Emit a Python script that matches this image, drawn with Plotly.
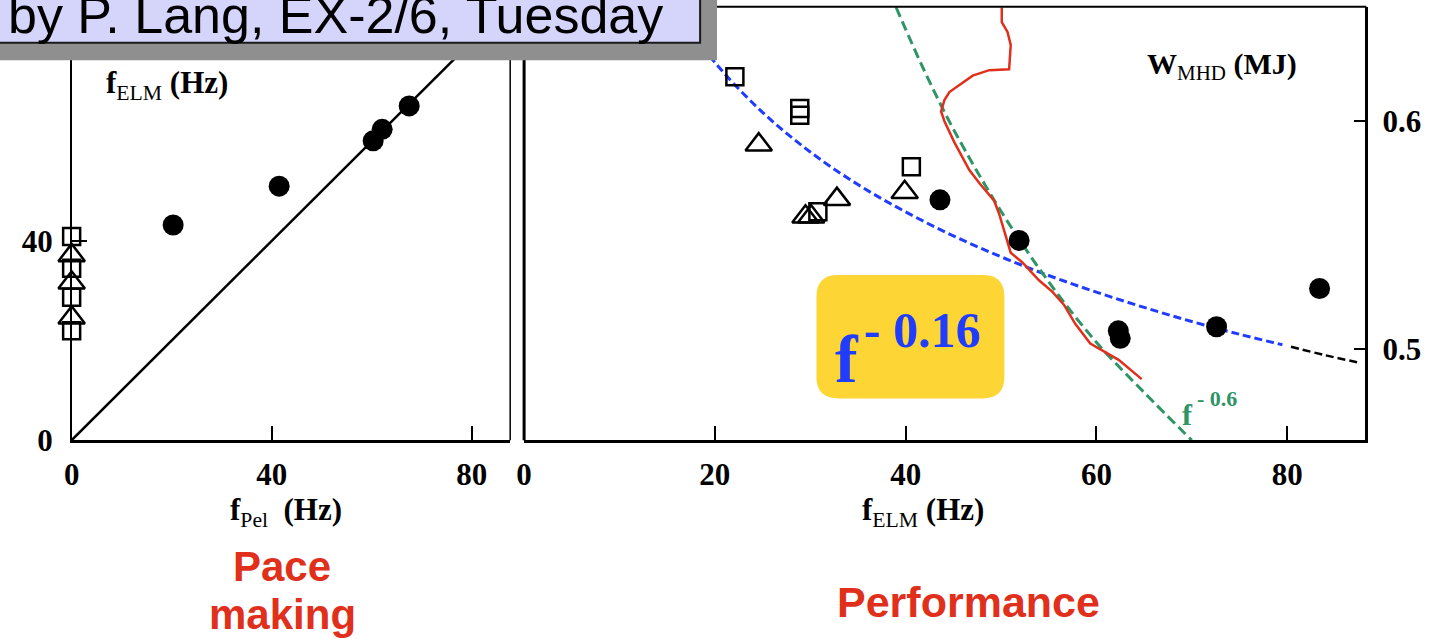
import plotly.graph_objects as go

# ---------------- data ----------------
# Left panel: f_ELM vs f_Pel (Hz)
pel_circle_fpel = [20.3, 41.5, 60.3, 62.1, 67.5]
pel_circle_felm = [43.2, 51.0, 60.1, 62.4, 67.1]
pel_square_fpel = [0, 0, 0, 0]
pel_square_felm = [40.9, 34.5, 28.7, 22.0]
pel_tri_fpel = [0, 0, 0]
pel_tri_felm = [37.1, 31.6, 24.6]
diag_x = [0, 86]
diag_y = [0, 86]

# Right panel: W_MHD (MJ) vs f_ELM (Hz)
sq_f = [22.1, 28.9, 28.9, 30.8, 40.6]
sq_w = [0.6195, 0.6056, 0.6026, 0.5603, 0.5800]
tri_f = [24.6, 29.5, 30.1, 32.8, 39.9]
tri_w = [0.5897, 0.5581, 0.5581, 0.5658, 0.5688]
circ_f = [43.6, 51.9, 62.3, 62.5, 72.6, 83.4]
circ_w = [0.5655, 0.5477, 0.5080, 0.5047, 0.5098, 0.5266]

blue_f = [15.8, 20, 25, 30, 35, 40, 45, 50, 55, 60, 65, 70, 75, 79.5]
blue_w = [0.650, 0.6258, 0.6039, 0.5865, 0.5722, 0.5602, 0.5497, 0.5405,
          0.5323, 0.5250, 0.5183, 0.5121, 0.5065, 0.5019]
black_f = [80.4, 84.0, 87.6]
black_w = [0.5010, 0.4973, 0.4940]
green_f = [39, 42, 45, 50, 55, 60, 65, 70]
green_w = [0.650, 0.6218, 0.5966, 0.5605, 0.5295, 0.5030, 0.4810, 0.4600]
red_f = [50.08, 50.08, 50.68, 51.02, 50.85, 48.77, 47.03, 44.59, 44.07, 43.72,
         44.07, 45.11, 46.68, 47.72, 49.28, 49.80, 51.02, 52.24, 53.98, 55.37,
         56.59, 57.80, 59.36, 61.63, 62.33, 64.75]
red_w = [0.6499, 0.6435, 0.6392, 0.6335, 0.6228, 0.6224, 0.6200, 0.6128, 0.6093,
         0.6043, 0.6000, 0.5907, 0.5786, 0.5729, 0.5651, 0.5594, 0.5423, 0.5380,
         0.5302, 0.5252, 0.5195, 0.5110, 0.5024, 0.4967, 0.4953, 0.4868]

left_xticks = [0, 40, 80]
left_yticks = [0, 40]
right_xticks = [0, 20, 40, 60, 80]
right_yticks = [0.5, 0.6]
right_yticktext = ["0.5", "0.6"]

# ---------------- layout helpers ----------------
W, H = 1431, 639
def PX(x):
    return x / W
def PY(y):
    return 1 - y / H

SERIF = "Liberation Serif"
SANS = "Liberation Sans"
BLUE = "#1f3cff"
GREEN = "#2f9466"
RED = "#e0301c"

fig = go.Figure()

# left panel traces
fig.add_trace(go.Scatter(x=diag_x, y=diag_y, mode="lines",
                         line=dict(color="black", width=2.5), xaxis="x", yaxis="y"))
fig.add_trace(go.Scatter(x=pel_square_fpel, y=pel_square_felm, mode="markers",
                         marker=dict(symbol="square-open", size=17, color="black",
                                     line=dict(width=2.5, color="black")),
                         xaxis="x", yaxis="y", cliponaxis=False))
fig.add_trace(go.Scatter(x=pel_tri_fpel, y=pel_tri_felm, mode="markers",
                         marker=dict(symbol="triangle-up-open", size=23, color="black",
                                     line=dict(width=2.5, color="black")),
                         xaxis="x", yaxis="y", cliponaxis=False))
fig.add_trace(go.Scatter(x=pel_circle_fpel, y=pel_circle_felm, mode="markers",
                         marker=dict(symbol="circle", size=21, color="black"),
                         xaxis="x", yaxis="y"))

# right panel traces
fig.add_trace(go.Scatter(x=blue_f, y=blue_w, mode="lines", line_shape="spline",
                         line=dict(color=BLUE, width=3, dash="8px,4px"),
                         xaxis="x2", yaxis="y2"))
fig.add_trace(go.Scatter(x=black_f, y=black_w, mode="lines", line_shape="spline",
                         line=dict(color="black", width=2.5, dash="8px,4px"),
                         xaxis="x2", yaxis="y2"))
fig.add_trace(go.Scatter(x=green_f, y=green_w, mode="lines", line_shape="spline",
                         line=dict(color=GREEN, width=3, dash="10px,5px"),
                         xaxis="x2", yaxis="y2"))
fig.add_trace(go.Scatter(x=red_f, y=red_w, mode="lines",
                         line=dict(color=RED, width=2.5),
                         xaxis="x2", yaxis="y2"))
fig.add_trace(go.Scatter(x=sq_f, y=sq_w, mode="markers",
                         marker=dict(symbol="square-open", size=17, color="black",
                                     line=dict(width=2.5, color="black")),
                         xaxis="x2", yaxis="y2"))
fig.add_trace(go.Scatter(x=tri_f, y=tri_w, mode="markers",
                         marker=dict(symbol="triangle-up-open", size=23, color="black",
                                     line=dict(width=2.5, color="black")),
                         xaxis="x2", yaxis="y2"))
fig.add_trace(go.Scatter(x=circ_f, y=circ_w, mode="markers",
                         marker=dict(symbol="circle", size=21, color="black"),
                         xaxis="x2", yaxis="y2"))

tickfont = dict(family=SERIF, size=31, color="black", weight="bold")
bottom = PY(453)
top = PY(7)

fig.update_layout(
    width=W, height=H, margin=dict(l=0, r=0, t=0, b=0),
    paper_bgcolor="white", plot_bgcolor="rgba(0,0,0,0)", showlegend=False,
    xaxis=dict(domain=[PX(64), PX(505)], range=[0, 87.7], showgrid=False, zeroline=False,
               showline=True, linewidth=3, linecolor="black",
               ticks="inside", ticklen=14, tickwidth=2, tickcolor="black",
               tickvals=left_xticks, tickfont=tickfont, anchor="y",
               ticklabelstandoff=5),
    yaxis=dict(domain=[bottom, top], range=[0, 87.0], showgrid=False, zeroline=False,
               showline=True, linewidth=1.5, linecolor="black",
               ticks="inside", ticklen=16, tickwidth=2, tickcolor="black",
               tickvals=left_yticks, tickfont=tickfont, anchor="x",
               ticklabelstandoff=11),
    xaxis2=dict(domain=[PX(519), PX(1365)], range=[0, 88.2], showgrid=False, zeroline=False,
                showline=True, linewidth=3, linecolor="black",
                ticks="inside", ticklen=14, tickwidth=2, tickcolor="black",
                tickvals=right_xticks, tickfont=tickfont, anchor="y2",
                ticklabelstandoff=5),
    yaxis2=dict(domain=[bottom, top], range=[0.46, 0.6502], showgrid=False, zeroline=False,
                showline=True, linewidth=3, linecolor="black", side="right",
                ticks="inside", ticklen=11, tickwidth=2, tickcolor="black",
                tickvals=right_yticks, ticktext=right_yticktext,
                tickfont=tickfont, anchor="x2", ticklabelstandoff=8),
)

def rounded_rect(x0, y0, x1, y1, r):
    pts = [
        f"M {PX(x0 + r)},{PY(y0)}",
        f"L {PX(x1 - r)},{PY(y0)}",
        f"Q {PX(x1)},{PY(y0)} {PX(x1)},{PY(y0 + r)}",
        f"L {PX(x1)},{PY(y1 - r)}",
        f"Q {PX(x1)},{PY(y1)} {PX(x1 - r)},{PY(y1)}",
        f"L {PX(x0 + r)},{PY(y1)}",
        f"Q {PX(x0)},{PY(y1)} {PX(x0)},{PY(y1 - r)}",
        f"L {PX(x0)},{PY(y0 + r)}",
        f"Q {PX(x0)},{PY(y0)} {PX(x0 + r)},{PY(y0)}",
        "Z",
    ]
    return " ".join(pts)

shapes = [
    # left panel right border
    dict(type="line", xref="paper", yref="paper", x0=PX(505), x1=PX(505),
         y0=bottom, y1=1, line=dict(color="black", width=1.5), layer="above"),
    # right panel left & top border
    dict(type="line", xref="paper", yref="paper", x0=PX(519), x1=PX(519),
         y0=bottom, y1=top, line=dict(color="black", width=3), layer="above"),
    dict(type="line", xref="paper", yref="paper", x0=PX(519), x1=PX(1366),
         y0=top, y1=top, line=dict(color="black", width=2), layer="above"),
    # yellow rounded box
    dict(type="path", xref="paper", yref="paper", path=rounded_rect(813, 283, 1002, 410, 22),
         fillcolor="#fdd535", line=dict(width=0), layer="above"),
    # title box shadow + box
    dict(type="rect", xref="paper", yref="paper", x0=PX(-10), x1=PX(713),
         y0=PY(62), y1=PY(-10), fillcolor="#8f8f8f", line=dict(width=0), layer="above"),
    dict(type="rect", xref="paper", yref="paper", x0=PX(-10), x1=PX(696),
         y0=PY(44), y1=PY(-10), fillcolor="#d5d5fc",
         line=dict(width=2, color="#1a1a1a"), layer="above"),
]
fig.update_layout(shapes=shapes)

def ann(text, x, y, size, color="black", family=SERIF, xanchor="center", yanchor="middle"):
    return dict(text=text, xref="paper", yref="paper", x=PX(x), y=PY(y),
                xanchor=xanchor, yanchor=yanchor, showarrow=False,
                font=dict(family=family, size=size, color=color))

annotations = [
    ann("by P. Lang, EX-2/6, Tuesday", -2, 15, 52, family=SANS, xanchor="left"),
    ann("<b>f</b><sub>ELM</sub><b> (Hz)</b>", 97, 87, 31, xanchor="left"),
    ann("<b>W</b><sub>MHD</sub><b> (MJ)</b>", 1143, 68, 30, xanchor="left"),
    ann("<b>f</b><sub>Pel</sub><b>  (Hz)</b>", 280, 527, 31),
    ann("<b>f</b><sub>ELM</sub><b> (Hz)</b>", 920, 527, 31),
    ann("<b>Pace</b>", 276, 583, 42, color=RED, family=SANS),
    ann("<b>making</b>", 276, 632, 42, color=RED, family=SANS),
    ann("<b>Performance</b>", 966, 619, 43, color=RED, family=SANS),
    ann("<b>f</b>", 830, 369, 68, color=BLUE, xanchor="left"),
    ann("<b>- 0.16</b>", 859, 340, 50, color=BLUE, xanchor="left"),
    ann("<b>f</b>", 1179, 426, 30, color=GREEN, xanchor="left"),
    ann("<b>- 0.6</b>", 1194, 410, 22, color=GREEN, xanchor="left"),
]
fig.update_layout(annotations=annotations)

fig.write_html("out.html")
